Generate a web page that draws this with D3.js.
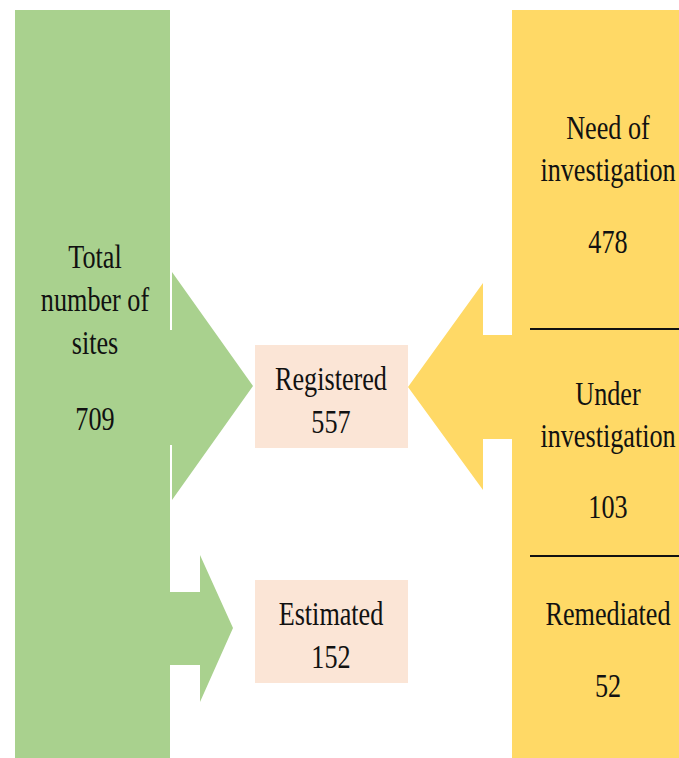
<!DOCTYPE html>
<html>
<head>
<meta charset="utf-8">
<script src="https://cdn.jsdelivr.net/npm/d3@7"></script>
<style>
  body { margin: 0; background: #fff; }
  svg { display: block; }
</style>
</head>
<body>
<div class="chart"></div>
<script>
// data
var totalLabel = ["Total", "number of", "sites"];
var totalValue = 709;
var midLabels = ["Registered", "Estimated"];
var midValues = [557, 152];
var statusLabels = [["Need of", "investigation"], ["Under", "investigation"], ["Remediated"]];
var statusValues = [478, 103, 52];

var width = 679, height = 758;

var svg = d3.select('.chart')
    .append('svg')
    .attr('width', width)
    .attr('height', height);

var green = "#A9D18E", yellow = "#FFD966", pink = "#FBE5D6";

// vertical bands for the middle boxes and the status cells
var yMid = d3.scaleBand().domain(midLabels).range([345, 683]).paddingInner(0.5617);
var yStatus = d3.scaleOrdinal().domain([0, 1, 2]).range([[10, 329], [329, 556], [556, 758]]);

var line = d3.line();

// arrows (drawn under the boxes)
svg.append('path')
    .attr('d', line([[160, 330], [172, 330], [172, 272], [253, 386], [172, 500], [172, 445], [160, 445]]) + 'Z')
    .attr('fill', green);
svg.append('path')
    .attr('d', line([[160, 592], [200, 592], [200, 555], [233, 628], [200, 702], [200, 665], [160, 665]]) + 'Z')
    .attr('fill', green);
svg.append('path')
    .attr('d', line([[520, 335], [483, 335], [483, 283], [408, 387], [483, 490], [483, 439], [520, 439]]) + 'Z')
    .attr('fill', yellow);

// big columns
svg.append('rect').attr('x', 15).attr('y', 10).attr('width', 155).attr('height', height - 10).attr('fill', green);
svg.append('rect').attr('x', 512).attr('y', 10).attr('width', width - 512).attr('height', height - 10).attr('fill', yellow);

// white edge between column and first arrow head
[[272, 330], [445, 500]].forEach(function(s) {
    svg.append('line').attr('x1', 171).attr('x2', 171).attr('y1', s[0]).attr('y2', s[1])
        .attr('stroke', '#fff').attr('stroke-width', 2);
});

// middle boxes
svg.selectAll('rect.mid')
    .data(midLabels)
    .enter()
    .append('rect')
    .attr('class', 'mid')
    .attr('x', 255)
    .attr('y', d => yMid(d))
    .attr('width', 153)
    .attr('height', yMid.bandwidth())
    .attr('fill', pink);

// dividers in yellow column
svg.selectAll('line.div')
    .data([0, 1])
    .enter()
    .append('line')
    .attr('class', 'div')
    .attr('x1', 530).attr('x2', width)
    .attr('y1', i => yStatus(i)[1]).attr('y2', i => yStatus(i)[1])
    .attr('stroke', '#111').attr('stroke-width', 2);

function label(x, y, txt) {
    svg.append('text')
        .attr('transform', 'translate(' + x + ',' + y + ') scale(0.77,1)')
        .attr('text-anchor', 'middle')
        .style('font-family', '"Liberation Serif", "Times New Roman", serif')
        .style('font-size', '34px')
        .attr('fill', '#111')
        .text(txt);
}

// left column text
totalLabel.forEach((t, i) => label(95, 268 + i * 43, t));
label(95, 430, totalValue);

// middle text
midLabels.forEach((t, i) => {
    var y0 = yMid(t);
    label(331, y0 + 45, t);
    label(331, y0 + 88, midValues[i]);
});

// right column text
var statusBase = [[139, 181, 253], [405, 447, 518], [625, 697]];
statusLabels.forEach((lines, i) => {
    var b = statusBase[i];
    lines.forEach((t, j) => label(608, b[j], t));
    label(608, b[b.length - 1], statusValues[i]);
});
</script>
</body>
</html>
